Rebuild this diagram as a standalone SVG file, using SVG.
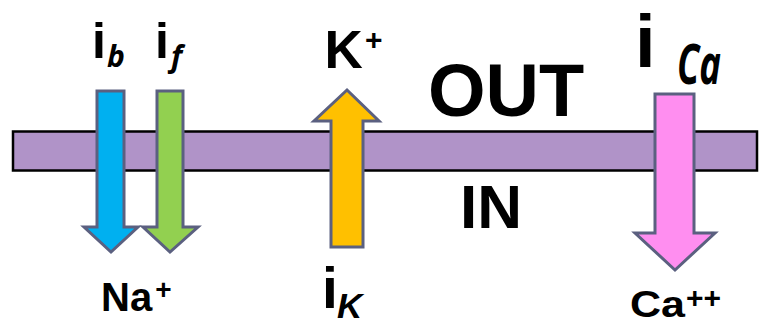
<svg xmlns="http://www.w3.org/2000/svg" width="770" height="325" viewBox="0 0 770 325">
<style>
.arr{stroke:#5b6080;stroke-width:3;stroke-linejoin:miter}
.b{font-family:"Liberation Sans",Arial,sans-serif;font-weight:bold;fill:#000}
.it{font-family:"Open Sans","Liberation Sans",sans-serif;font-style:italic;font-weight:bold;fill:#000}
.bi{font-family:"Liberation Sans",Arial,sans-serif;font-style:italic;font-weight:bold;fill:#000}
</style>
<rect width="770" height="325" fill="#fff"/>
<g id="membrane">
<rect x="13" y="131.5" width="744" height="39" fill="#b093c8" stroke="#000" stroke-width="2.5"/>
</g>
<g id="labels-side">
<text class="b" x="428" y="116" font-size="74">OUT</text>
<text class="b" x="460" y="228" font-size="62">IN</text>
</g>
<g id="connectors">
<g id="arrow-ib"><path class="arr" fill="#00b0f0" d="M97,91 H124 V227 H138 L111,252 L84,227 H97 Z"/></g>
<g id="arrow-if"><path class="arr" fill="#92d050" d="M157,91 H183 V227 H198 L170,252 L143,227 H157 Z"/></g>
<g id="arrow-ik"><path class="arr" fill="#ffc000" d="M331,247 V121 H314 L347,90 L379,121 H363 V247 Z"/></g>
<g id="arrow-ica"><path class="arr" fill="#ff8ef0" d="M655,94 H694 V233 H715 L675,270 L635,233 H655 Z"/></g>
</g>
<g id="node-ib">
<text class="b" x="92" y="58" font-size="50">i</text>
<text class="it" x="107" y="67" font-size="30">b</text>
</g>
<g id="node-if">
<text class="b" x="155" y="58" font-size="50">i</text>
<text class="it" x="171" y="67" font-size="30">f</text>
</g>
<g id="node-na">
<text class="b" x="101" y="311" font-size="40">Na<tspan font-size="28" dx="3" dy="-12">+</tspan></text>
</g>
<g id="node-k">
<text class="b" x="324.5" y="68" font-size="53">K</text>
<text class="b" x="365" y="50" font-size="30">+</text>
</g>
<g id="node-ik">
<text class="b" x="322" y="308" font-size="57">i</text>
<text class="bi" x="337" y="317.5" font-size="35">K</text>
</g>
<g id="node-ica">
<text class="b" x="635" y="67" font-size="74">i</text>
<text class="it" x="677" y="84" font-size="56" textLength="44" lengthAdjust="spacingAndGlyphs">Ca</text>
</g>
<g id="node-ca">
<text class="b" x="630" y="316.5" font-size="36" textLength="55" lengthAdjust="spacingAndGlyphs">Ca</text>
<text class="b" x="686" y="308" font-size="30">++</text>
</g>
</svg>
